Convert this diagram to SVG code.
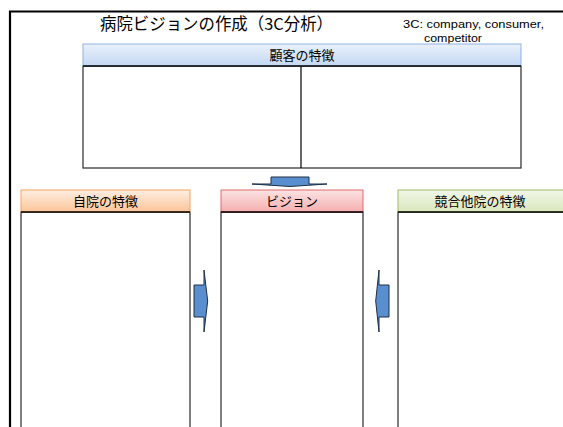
<svg xmlns="http://www.w3.org/2000/svg" width="563" height="427" viewBox="0 0 563 427">
<defs>
<linearGradient id="gBlue" x1="0" y1="0" x2="0" y2="1"><stop offset="0" stop-color="#eaf1fb"/><stop offset="1" stop-color="#c3d8f3"/></linearGradient>
<linearGradient id="gOrange" x1="0" y1="0" x2="0" y2="1"><stop offset="0" stop-color="#feeee2"/><stop offset="1" stop-color="#fcc598"/></linearGradient>
<linearGradient id="gRed" x1="0" y1="0" x2="0" y2="1"><stop offset="0" stop-color="#fbe3e3"/><stop offset="1" stop-color="#f5aeae"/></linearGradient>
<linearGradient id="gGreen" x1="0" y1="0" x2="0" y2="1"><stop offset="0" stop-color="#f1f6e8"/><stop offset="1" stop-color="#d9e7bd"/></linearGradient>
</defs>
<style>
.jp{font-family:"Noto Sans CJK JP","Noto Sans",sans-serif;fill:#000}
.en{font-family:"Liberation Sans","Noto Sans",sans-serif;fill:#000}
.hd{font-size:13px;text-anchor:middle}
.body{fill:#fff;stroke:#3a3a3a;stroke-width:1.3}
.arrow{fill:#5a8fcf;stroke:#1f2f45;stroke-width:1}
</style>
<rect width="563" height="427" fill="#fff"/>
<g id="frame"><path d="M10,427 V11.5 H563" fill="none" stroke="#000" stroke-width="2.2"/></g>
<g id="title">
<text class="jp" x="216.5" y="30" font-size="16.5" text-anchor="middle" textLength="233" lengthAdjust="spacingAndGlyphs">病院ビジョンの作成（3C分析）</text>
<text class="en" x="403" y="28" font-size="11.5" textLength="141" lengthAdjust="spacingAndGlyphs">3C: company, consumer,</text>
<text class="en" x="424" y="41.5" font-size="11.5" textLength="58" lengthAdjust="spacingAndGlyphs">competitor</text>
</g>
<g id="customer">
<rect x="83" y="66" width="438" height="102" class="body"/>
<line x1="301" y1="66" x2="301" y2="168" stroke="#000" stroke-width="1.2"/>
<rect x="83" y="44" width="438" height="22" fill="url(#gBlue)" stroke="#8db3e2" stroke-width="1"/>
<line x1="83" y1="66" x2="521" y2="66" stroke="#000" stroke-width="1.3"/>
<text class="jp hd" x="302" y="60">顧客の特徴</text>
</g>
<g id="self">
<rect x="21" y="212" width="169" height="220" class="body"/>
<rect x="21" y="190" width="169" height="22" fill="url(#gOrange)" stroke="#f7a35c" stroke-width="1"/>
<line x1="21" y1="212" x2="190" y2="212" stroke="#000" stroke-width="1.3"/>
<text class="jp hd" x="105.5" y="206">自院の特徴</text>
</g>
<g id="vision">
<rect x="221" y="212" width="142" height="220" class="body"/>
<rect x="221" y="190" width="142" height="22" fill="url(#gRed)" stroke="#e06b6b" stroke-width="1"/>
<line x1="221" y1="212" x2="363" y2="212" stroke="#000" stroke-width="1.3"/>
<text class="jp hd" x="292" y="206">ビジョン</text>
</g>
<g id="competitor">
<rect x="398" y="212" width="170" height="220" class="body"/>
<rect x="398" y="190" width="170" height="22" fill="url(#gGreen)" stroke="#9bbb59" stroke-width="1"/>
<line x1="398" y1="212" x2="563" y2="212" stroke="#000" stroke-width="1.3"/>
<text class="jp hd" x="480" y="206">競合他院の特徴</text>
</g>
<g id="connectors">
<polygon class="arrow" points="271,177 309,177 309,184 327,184 290,186.5 252,184 271,184"/>
<polygon class="arrow" points="194,285 204,285 204,270 207.7,301 204,332 204,317 194,317"/>
<polygon class="arrow" points="389,285 379,285 379,270 375.7,301 379,332 379,317 389,317"/>
</g>
</svg>
